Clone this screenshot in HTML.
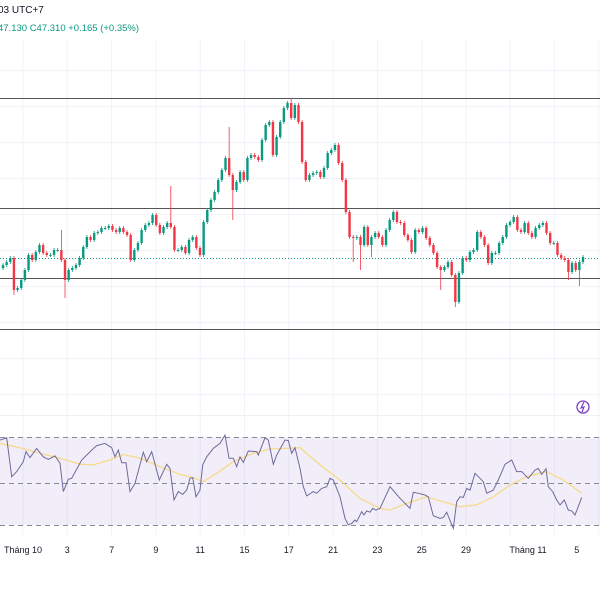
<!DOCTYPE html>
<html><head><meta charset="utf-8"><style>
html,body{margin:0;padding:0;background:#fff;}
body{width:600px;height:600px;overflow:hidden;font-family:"Liberation Sans","Noto Sans CJK JP",sans-serif;}
</style></head><body>
<svg id="chart" width="600" height="600" xmlns="http://www.w3.org/2000/svg">
<rect x="0" y="0" width="600" height="600" fill="#fff"/>
<g id="grid"></g>
<text x="-2" y="13" font-size="10" fill="#131722">03 UTC+7</text>
<text x="-2" y="31" font-size="9.5" fill="#089981">47.130  C47.310  +0.165 (+0.35%)</text>
<g>
<line x1="0" x2="600" y1="98.5" y2="98.5" stroke="#555" stroke-width="1"/>
<line x1="0" x2="600" y1="208.5" y2="208.5" stroke="#555" stroke-width="1"/>
<line x1="0" x2="600" y1="278.5" y2="278.5" stroke="#555" stroke-width="1"/>
<line x1="0" x2="600" y1="329.5" y2="329.5" stroke="#555" stroke-width="1"/>
<line x1="0" x2="600" y1="258.5" y2="258.5" stroke="#089981" stroke-width="1" stroke-dasharray="1,2"/>
</g>
<g id="candles"></g>
<line x1="0" x2="600" y1="415.5" y2="415.5" stroke="#eef0f3"/>
<g>
<circle cx="583" cy="407" r="6" fill="none" stroke="#7e3fc2" stroke-width="1.3"/>
<path d="M584 402 L581 408 L584 407 L582 412" fill="none" stroke="#7e3fc2" stroke-width="1.2"/>
</g>
<rect x="0" y="437" width="600" height="88" fill="#7e57c2" fill-opacity="0.1"/>
<line x1="0" x2="600" y1="437.5" y2="437.5" stroke="#8a8a96" stroke-dasharray="5,4"/>
<line x1="0" x2="600" y1="483.5" y2="483.5" stroke="#8a8a96" stroke-dasharray="5,4"/>
<line x1="0" x2="600" y1="525.5" y2="525.5" stroke="#8a8a96" stroke-dasharray="5,4"/>
<g id="rsi"></g>
<g id="xaxis"></g>
</svg>
<script>
// price units: value -> y = 500 - value
const closes=[235,238,242,210,212,220,230,245,240,248,255,247,245,245,250,250,240,220,230,232,235,242,253,263,260,267,268,272,272,274,270,268,272,268,265,240,250,257,
270,275,277,285,275,267,273,277,273,250,250,253,247,260,263,252,245,278,290,300,308,320,330,342,325,310,318,328,320,342,345,343,340,360,375,378,345,363,378,392,397,382,395,378,338,320,325,327,328,
323,332,347,350,355,337,320,288,263,262,263,255,273,255,263,267,263,255,270,280,288,278,277,265,260,248,270,268,272,262,255,247,233,230,233,238,
225,198,227,242,240,248,250,268,263,255,237,247,247,257,263,275,278,283,270,268,277,267,263,272,275,277,267,257,257,245,242,240,228,237,230,238,243];
const wickHi=[2,2,2,2,2,2,2,2,2,2, 2,2,2,2,2,2,20,2,2,2, 2,2,2,2,2,2,2,2,2,2, 2,2,2,2,2,2,2,2,2,2,
2,2,2,2,2,2,37,2,2,2, 2,2,2,2,2,2,2,2,2,2, 2,2,31,2,2,2,2,2,2,2, 2,2,2,2,2,2,2,2,2,5,
2,2,2,2,2,2,2,2,2,2, 2,2,2,2,2,2,2,2,2,2, 2,2,2,2,2,2,2,2,2,2, 2,2,2,2,2,2,2,2,2,2,
2,2,2,2,2,2,2,2,2,2, 2,2,2,2,2,2,2,2,2,2, 2,2,2,2,2,2,2,2,2,2, 2,2,2,2,2,2,2,2,2,2];
const wickLo=[2,2,2,5,2,2,2,2,2,2, 2,2,2,2,2,2,2,18,2,2, 2,2,2,2,2,2,2,2,2,2, 2,2,2,2,2,2,2,2,2,2,
2,2,2,2,2,2,2,2,2,2, 2,2,2,2,2,2,2,2,2,2, 2,2,2,30,2,2,2,2,2,2, 2,2,2,2,2,2,2,2,2,2,
2,2,2,2,2,2,2,2,2,2, 2,2,2,2,2,2,24,2,25,2, 2,12,2,2,2,2,2,2,2,2, 2,2,2,2,2,2,2,2,2,2,
20,2,2,2,5,2,2,2,2,2, 2,2,2,2,2,2,2,2,2,2, 2,2,2,2,2,2,2,2,2,2, 2,2,2,2,2,8,2,2,16,2];
const rsiTime=[0,6.7,11.7,16.7,23.3,26,30,36.7,43.3,48.3,55,60,63.3,68.3,71.7,81.7,91.7,96.7,105,111.7,115,118.3,121.7,126,130,135,143.3,146.7,151.7,159.3,166.7,170,174,178.3,182.7,186.7,190,192.7,196,200,202.7,206.7,213.3,220,225,229,233.3,236.7,240,243.3,248.3,256.7,258.3,265,268.3,273.3,276.7,285,288.3,291.7,295,300,
303.3,306.7,313.3,316.7,321.7,326.7,330,333.3,340,345,348.3,351.7,355,356.7,361.7,364,366.7,370,372.7,376,380,390,400,410,413.3,418.3,425,428.3,433.3,440,443.3,446.7,453.3,456.7,460,463.3,466.7,470,475,480,483.3,486.7,493.3,498.3,505,511.7,516.7,521.7,528.3,535,538.3,541.7,546,548.3,552.7,556.7,560,564.3,568.3,571.7,575,581.7];
const rsiVals=[70,71,52.9,55.3,59.9,64.6,61.8,66.1,62.2,61,62.6,59.2,46,51.7,52.2,60.7,65.3,67.4,68.4,66.4,62.2,65.3,59.4,59.4,46,49.8,64.3,59.9,64.6,51.4,58.7,56.8,42.1,46,44.7,46.7,52.2,52.5,43.6,46.7,58.4,62.2,66.1,68.4,72.3,61.5,61.5,57.6,62.2,59.6,64.9,64.6,63,71,70,58.7,63,70,69.7,63.8,66.4,56.8,
48.3,44,46,45.2,47.5,48.3,52.2,51.4,43.6,33.6,30.5,31.2,32.8,32,36.7,35.1,37,36.4,38.2,37.4,38.2,48.3,42.9,38.2,45.7,45.2,44.4,43.6,34.8,33.6,33.9,36.4,28.9,41.3,43.6,43.3,47.5,46.7,54.5,52.2,50.6,45.2,46.7,51.4,58.7,60.7,55.3,55.3,52.2,56,56.8,54,56.6,48.3,46,42.1,39.8,42.1,37.4,37,35.1,43.2];
const maTime=[0,20,40,60,80,93.3,110,123.3,140,160,180,193.3,203.3,216.7,233.3,253.3,270,286.7,300,320,340,360,380,390,406.7,426.7,443.3,460,476.7,493.3,510,526.7,546.7,563.3,581.7];
const maVals=[68.4,66.4,63.8,61.5,58.8,58.4,60.7,63.3,61.5,57.6,54,52.5,50.6,54.5,59.9,63.8,65.8,66.1,66.4,58.4,51.4,42.9,38.2,37.4,40.5,43.6,41.3,39,39.8,43.6,49.1,52.9,55.3,51.4,45.2];
const xTickLabels=["Tháng 10","3","7","9","11","15","17","21","23","25","29","Tháng 11","5"];
const xTickPos=[0,1,2,3,4,5,6,7,8,9,10,11.4,12.5];

const NS="http://www.w3.org/2000/svg";
function mk(t,a,p){const e=document.createElementNS(NS,t);for(const k in a)e.setAttribute(k,a[k]);p.appendChild(e);return e;}
const X0=3,X1=583;
function xc(i){return X0+i*(X1-X0)/(closes.length-1);}
function yp(v){return 500-v;}
function xtime(t){return t;}
function yr(r){return 483-(r-50)*2.15;}
function xt(k){return 23+k*44.3;}

const grid=document.getElementById('grid');
for(let k=0;k<14;k++){const l=mk('line',{x1:xt(k),x2:xt(k),y1:40,y2:535,stroke:'#f0f3fa'},grid);

}
for(let y=70;y<410;y+=36){const l=mk('line',{x1:0,x2:600,y1:y+.5,y2:y+.5,stroke:'#f0f3fa'},grid);

}

const cg=document.getElementById('candles');
for(let i=0;i<closes.length;i++){
 const c=closes[i],o=i>0?closes[i-1]:c-3;
 const up=c>=o,col=up?'#089981':'#f23645';
 const hi=Math.max(o,c)+wickHi[i],lo=Math.min(o,c)-wickLo[i];
 const x=xc(i);
 const g=mk('g',{},cg);
 
 
 mk('line',{x1:x,x2:x,y1:yp(hi),y2:yp(lo),stroke:col,'stroke-width':0.8},g);
 const t=yp(Math.max(o,c)),b=yp(Math.min(o,c));
 mk('rect',{x:x-1.2,y:t,width:2.4,height:Math.max(1,b-t),fill:col},g);
}

const rg=document.getElementById('rsi');
let d='';maVals.forEach((v,i)=>{d+=(i?'L':'M')+xtime(maTime[i]).toFixed(1)+' '+yr(v).toFixed(1);});
const ma=mk('path',{d:d,fill:'none',stroke:'#f7d98a','stroke-width':1.3},rg);


d='';rsiVals.forEach((v,i)=>{d+=(i?'L':'M')+xtime(rsiTime[i]).toFixed(1)+' '+yr(v).toFixed(1);});
const rl=mk('path',{d:d,fill:'none',stroke:'#6f6a9a','stroke-width':1},rg);



const xa=document.getElementById('xaxis');
xTickLabels.forEach((s,i)=>{const t=mk('text',{x:xt(xTickPos[i]),y:553,'font-size':9,fill:'#131722','text-anchor':'middle'},xa);
t.textContent=s;

});
</script>
</body></html>
